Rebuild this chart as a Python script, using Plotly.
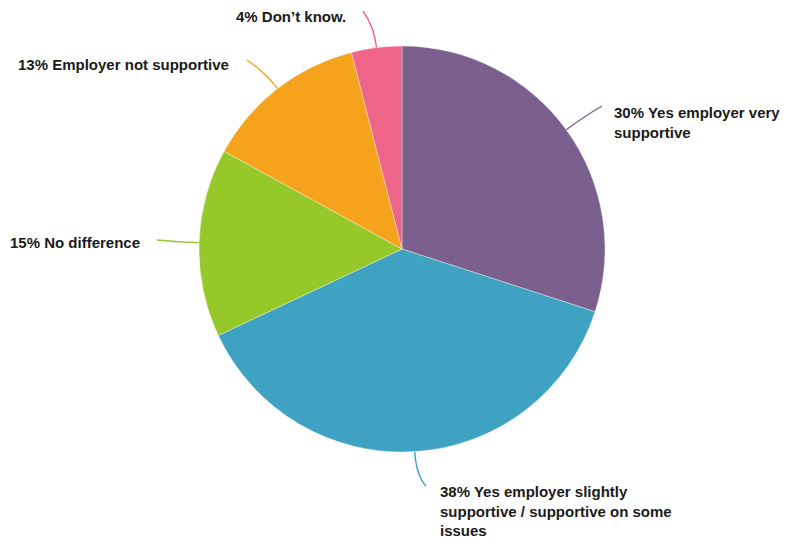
import math
import plotly.graph_objects as go

# Survey responses: is the employer supportive?
labels = [
    "Yes employer very supportive",
    "Yes employer slightly supportive / supportive on some issues",
    "No difference",
    "Employer not supportive",
    "Don't know.",
]
values = [30, 38, 15, 13, 4]
colors = ["#7B5F8F", "#3FA2C2", "#96C82A", "#F5A31C", "#EF6489"]

# Label text as printed beside each slice
label_text = [
    "30% Yes employer very<br>supportive",
    "38% Yes employer slightly<br>supportive / supportive on some<br>issues",
    "15% No difference",
    "13% Employer not supportive",
    "4% Don\u2019t know.",
]

W, H = 790, 538
CX, CY, R = 402, 249, 203  # pie centre and radius in pixels

# Where each label sits (left edge, vertical centre) and where its leader ends
label_pos = [(612, 122), (438, 511), (8, 242), (16, 64), (234, 16)]
leader_end = [(602, 106), (426, 486), (157, 240), (247, 60), (363, 11)]
leader_bend = [24, 24, 20, 22, 22]

fig = go.Figure()

fig.add_trace(go.Pie(
    labels=labels,
    values=values,
    sort=False,
    direction="clockwise",
    rotation=0,
    marker=dict(colors=colors, line=dict(color="rgba(255,255,255,0.6)", width=0.6)),
    textinfo="none",
    hoverinfo="label+percent",
    showlegend=False,
    domain=dict(
        x=[(CX - R) / W, (CX + R) / W],
        y=[(H - CY - R) / H, (H - CY + R) / H],
    ),
))

# Curved leader lines from each slice's outer midpoint to its label
total = sum(values)
cum = 0
for v, col, end, bend in zip(values, colors, leader_end, leader_bend):
    mid = (cum + v / 2) / total * 2 * math.pi
    cum += v
    dx, dy = math.sin(mid), -math.cos(mid)
    x0, y0 = CX + R * dx, CY + R * dy
    qx, qy = CX + (R + bend) * dx, CY + (R + bend) * dy
    fig.add_shape(
        type="path",
        path=f"M {x0:.1f} {y0:.1f} Q {qx:.1f} {qy:.1f} {end[0]} {end[1]}",
        xref="x", yref="y",
        line=dict(color=col, width=1.4),
        layer="below",
    )

for txt, (lx, ly) in zip(label_text, label_pos):
    fig.add_annotation(
        x=lx, y=ly, xref="x", yref="y",
        text=f"<b>{txt}</b>",
        showarrow=False,
        xanchor="left", yanchor="middle", align="left",
        font=dict(family="Liberation Sans, Arial, sans-serif", size=15, color="#1a1a1a"),
    )

fig.update_layout(
    width=W, height=H,
    margin=dict(l=0, r=0, t=0, b=0),
    paper_bgcolor="white",
    plot_bgcolor="rgba(0,0,0,0)",
    xaxis=dict(range=[0, W], visible=False, domain=[0, 1], fixedrange=True),
    yaxis=dict(range=[H, 0], visible=False, domain=[0, 1], fixedrange=True),
)

fig.write_html("out.html")
